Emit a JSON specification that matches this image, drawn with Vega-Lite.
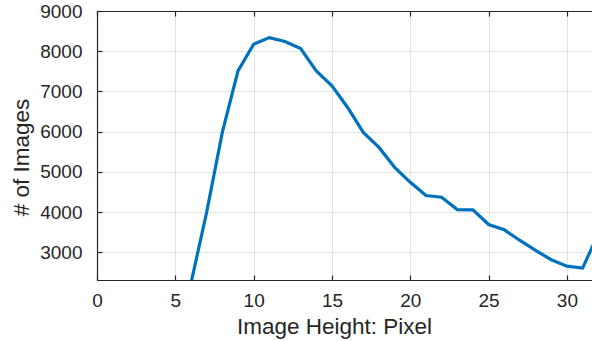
{
  "$schema": "https://vega.github.io/schema/vega-lite/v6.json",
  "width": 495,
  "height": 269,
  "autosize": {"type": "none"},
  "padding": {"left": 97, "top": 11, "right": 0, "bottom": 61},
  "background": "white",
  "config": {
    "view": {"stroke": null},
    "font": "Liberation Sans",
    "axis": {
      "labelFont": "Liberation Sans",
      "titleFont": "Liberation Sans",
      "labelColor": "#262626",
      "titleColor": "#262626",
      "labelFontSize": 19,
      "titleFontSize": 22.5,
      "titleFontWeight": "normal",
      "labelFlush": false,
      "labelOverlap": false,
      "domainColor": "#262626",
      "domainWidth": 1.2,
      "tickColor": "#262626",
      "tickWidth": 1.2,
      "tickSize": -5,
      "gridColor": "#e3e3e3",
      "gridWidth": 1
    }
  },
  "data": {
    "values": [
      {"h": 6, "n": 2230},
      {"h": 7, "n": 3995},
      {"h": 8, "n": 5980},
      {"h": 9, "n": 7510},
      {"h": 10, "n": 8175},
      {"h": 11, "n": 8338},
      {"h": 12, "n": 8240},
      {"h": 13, "n": 8065},
      {"h": 14, "n": 7510},
      {"h": 15, "n": 7140},
      {"h": 16, "n": 6600},
      {"h": 17, "n": 5980},
      {"h": 18, "n": 5608},
      {"h": 19, "n": 5112},
      {"h": 20, "n": 4740},
      {"h": 21, "n": 4410},
      {"h": 22, "n": 4368},
      {"h": 23, "n": 4062},
      {"h": 24, "n": 4055},
      {"h": 25, "n": 3690},
      {"h": 26, "n": 3558},
      {"h": 27, "n": 3293},
      {"h": 28, "n": 3045},
      {"h": 29, "n": 2814},
      {"h": 30, "n": 2655},
      {"h": 31, "n": 2606},
      {"h": 32, "n": 3460}
    ]
  },
  "resolve": {"axis": {"x": "independent"}},
  "layer": [
    {
      "mark": {"type": "line", "color": "#0072BD", "strokeWidth": 3.2, "clip": true},
      "encoding": {
        "x": {
          "field": "h", "type": "quantitative",
          "scale": {"domain": [0, 31.6], "nice": false, "zero": false},
          "axis": {
            "values": [0, 5, 10, 15, 20, 25, 30],
            "format": "d",
            "title": "Image Height: Pixel",
            "labelPadding": 16,
            "titleX": 237, "titleY": 53, "titleAlign": "center", "titleBaseline": "alphabetic",
            "grid": true
          }
        },
        "y": {
          "field": "n", "type": "quantitative",
          "scale": {"domain": [2310, 9000], "nice": false, "zero": false},
          "axis": {
            "values": [3000, 4000, 5000, 6000, 7000, 8000, 9000],
            "format": "d",
            "title": "# of Images",
            "labelPadding": 20,
            "titleX": -76, "titleY": 146, "titleAlign": "center", "titleBaseline": "middle", "titleAngle": 270,
            "grid": true
          }
        }
      }
    },
    {
      "mark": {"type": "line", "strokeOpacity": 0, "clip": true},
      "encoding": {
        "x": {
          "field": "h", "type": "quantitative",
          "axis": {
            "orient": "top",
            "values": [0, 5, 10, 15, 20, 25, 30],
            "labels": false,
            "title": null,
            "grid": false
          }
        },
        "y": {"field": "n", "type": "quantitative"}
      }
    }
  ]
}
